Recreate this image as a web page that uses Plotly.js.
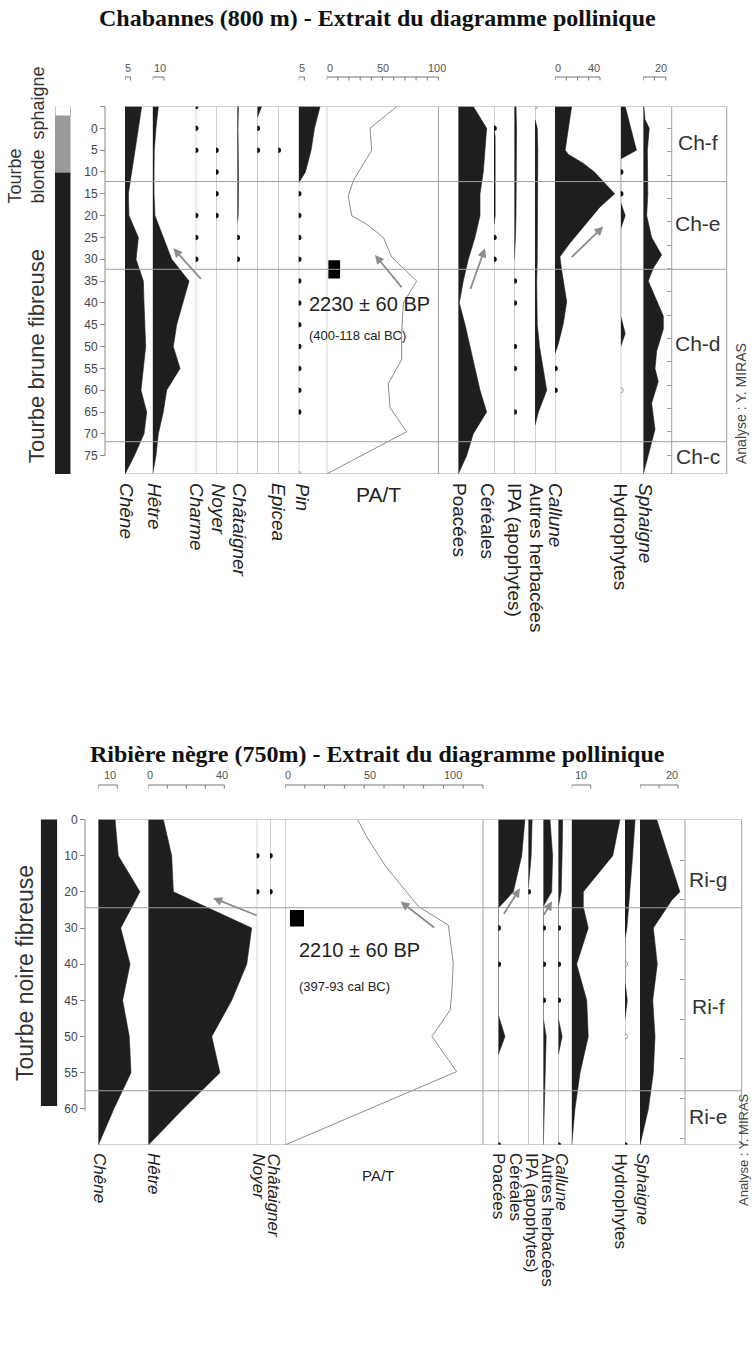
<!DOCTYPE html>
<html><head><meta charset="utf-8">
<script src="https://cdn.plot.ly/plotly-3.0.1.min.js"></script>
<style>html,body{margin:0;padding:0;background:#fff}#chart{width:752px;height:1352px}</style>
</head><body><div id="chart"></div>
<script>
// ================= DATA : Chabannes (800 m) =================
const chabDepth = [-5, 0, 5, 10, 15, 20, 25, 30, 35, 40, 45, 50, 55, 60, 65, 70, 75, 79.2];
const chabDepthTicks = [-5, 0, 5, 10, 15, 20, 25, 30, 35, 40, 45, 50, 55, 60, 65, 70, 75];
const chabDepthTickText = ['', '0', '5', '10', '15', '20', '25', '30', '35', '40', '45', '50', '55', '60', '65', '70', '75'];
const chabChene = [14.8, 11.9, 8.9, 5.9, 3.0, 3.5, 11.9, 9.8, 16.3, 16.9, 17.8, 18.4, 16.3, 14.2, 19.3, 16.9, 8.3, 0];
const chabHetre = [5.0, 2.9, 1.4, 1.2, 1.2, 2.0, 9.4, 16.9, 32.3, 26.7, 21.3, 18.3, 24.3, 12.4, 9.4, 5.0, 2.9, 0];
const chabCharmeDots = [-5, 0, 5, 20, 25, 30];
const chabNoyerDots = [5, 10, 15, 20];
const chabChataignierDepth = [-5, 0, 5, 10, 15, 20, 21.5];
const chabChataignierVal = [1.0, 0.6, 1.0, 1.0, 1.0, 0.8, 0];
const chabChataignierDots = [25, 30];
const chabTaxonXDepth = [-5, -2.5];
const chabTaxonXVal = [3.9, 0];
const chabTaxonXDots = [0, 5];
const chabEpiceaDots = [5];
const chabPinDepth = [-5, 0, 5, 10, 12.5];
const chabPinVal = [19, 14, 11, 6, 0];
const chabPinDots = [15, 20, 25, 30, 35, 40, 45, 50, 55, 60, 65];
const chabPinOpen = [79.2];
const chabPATDepth = [-5, 0, 5, 9, 12, 15.5, 20, 22, 25, 29.5, 35, 40, 47, 53, 58.5, 64, 69.5, 79.2];
const chabPATVal = [62.7, 38.8, 40.3, 31.3, 23.8, 19.3, 22.4, 35.8, 50.7, 58.2, 80.6, 68.6, 67.1, 67.1, 55.1, 56.7, 71.6, 0];
const chabPoacees = [13.3, 25.2, 23.7, 22.2, 19.3, 19.3, 14.8, 8.9, 4.4, 0.9, 6.0, 10.4, 14.8, 19.3, 25.2, 13.3, 7.4, 0];
const chabCerealesDepth = [0, 2, 5, 10, 15, 20, 22];
const chabCerealesVal = [0, 1, 1, 1, 1, 1, 0];
const chabCerealesDots = [0, 25, 30];
const chabIPADepth = [-5, 0, 5, 10, 15, 20, 25, 30];
const chabIPAVal = [1.5, 2, 2, 2, 2, 1.5, 1, 0];
const chabIPADots = [35, 40, 50, 55, 65];
const chabAutresDepth = [-2, 0, 5, 10, 15, 20, 25, 30, 35, 40, 45, 50, 55, 60, 65, 68];
const chabAutresVal = [0, 2, 2.5, 2.5, 2.5, 2, 2, 2, 1.5, 1.5, 2, 4, 7, 10.4, 3, 0];
const chabAutresOpen = [-5];
const chabCalluneDepth = [-5, 0, 5, 6, 8, 10, 15, 18, 22.5, 26.3, 29.4, 32.5, 39.7, 44.7, 49.3, 51.6];
const chabCalluneVal = [14.8, 11.9, 9, 12, 25, 35, 53, 40, 25.2, 13.3, 4.4, 5.9, 10.4, 7.4, 3, 0];
const chabCalluneDots = [55, 60];
const chabHydroDepth = [-5, 0, 5, 7, 17, 20, 23, 43, 47, 50];
const chabHydroVal = [4, 9, 14, 0, 0, 4, 0, 0, 4, 0];
const chabHydroDots = [10, 15];
const chabHydroOpen = [60];
const chabSphaigneDepth = [-5, -2, 0, 5, 10, 15, 20, 25, 29, 32, 35, 43, 46, 51, 55, 58, 63, 69, 79.2];
const chabSphaigneVal = [0.5, 1.5, 5.3, 3.6, 3.6, 4, 3, 7.4, 16.3, 8.9, 4.4, 17.8, 17.8, 11.9, 10.4, 13.3, 7.4, 10.4, 0];
const chabZoneBounds = [12.2, 32.3, 71.8];
const chabZoneNames = ['Ch-f', 'Ch-e', 'Ch-d', 'Ch-c'];
const chabZoneLabelDepth = [3.2, 21.8, 49.2, 75.2];
const chabLithoBounds = [-5.2, -2.8, 10.1, 79.2];
const chabDateDepth = 32.3;

// ================= DATA : Ribière nègre (750 m) =================
// levels are equally spaced on the diagram; the depth labels are not
const ribLevelPos = [0, 1, 2, 3, 4, 5, 6, 7, 8];
const ribLevelText = ['0', '10', '20', '30', '40', '45', '50', '55', '60'];
const ribPos = [0, 1, 2, 3, 4, 5, 6, 7, 8, 9];
const ribChene = [8.8, 10.5, 21.9, 11.8, 16.7, 12.8, 16.3, 17.2, 8.2, 0];
const ribHetre = [7.9, 12.3, 13.2, 54.4, 51.8, 43.9, 33.4, 37.7, 18.4, 0];
const ribNoyerDots = [1, 2];
const ribChataignierDots = [1, 2];
const ribPATPos = [0, 0.48, 1.3, 1.86, 2.41, 2.92, 3.98, 4.8, 5.27, 6.0, 6.97, 9];
const ribPATVal = [36.7, 41.3, 50.9, 59.2, 67.5, 82.5, 85, 84.2, 83.4, 74.2, 86.7, 0];
const ribPoaceesPos = [0, 1, 2, 2.45, 5.4, 6, 6.5];
const ribPoaceesVal = [14, 12.3, 7.9, 0, 0, 3.5, 0];
const ribPoaceesDots = [3, 4, 9];
const ribCerealesPos = [0, 1, 1.9];
const ribCerealesVal = [2, 1.5, 0];
const ribCerealesDots = [2];
const ribIPAPos = [0, 1, 2, 2.4, 5.5, 6, 7, 8, 9];
const ribIPAVal = [3.5, 4.9, 4.4, 0, 0, 1.5, 1, 0.7, 0];
const ribIPADots = [3, 4, 5];
const ribAutresPos = [0, 1, 2, 2.4, 5.5, 6, 6.5];
const ribAutresVal = [2.3, 2, 1.5, 0, 0, 2, 0];
const ribAutresDots = [3, 4, 5, 9];
const ribCallunePos = [0, 1, 2, 2.42, 3, 4, 5, 6, 7, 8, 9];
const ribCalluneVal = [25.4, 21.6, 6.1, 6.1, 8.7, 2.6, 7.9, 8.7, 4.4, 1.7, 0];
const ribHydroPos = [0, 1, 2, 3, 3.3, 4.5, 5, 5.5];
const ribHydroVal = [5.3, 4, 2.6, 1, 0, 0, 1.2, 0];
const ribHydroOpen = [4, 6];
const ribHydroDots = [9];
const ribSphaignePos = [0, 1.3, 2, 2.23, 3, 4, 5, 6, 7, 8, 9];
const ribSphaigneVal = [8.8, 16.7, 21, 16.7, 7, 9.1, 6.7, 7.9, 7, 4.4, 0];
const ribZoneBounds = [2.44, 7.5];
const ribZoneNames = ['Ri-g', 'Ri-f', 'Ri-e'];
const ribZoneLabelPos = [1.67, 5.18, 8.2];
const ribLithoBounds = [-0.05, 7.92];
const ribDatePos = 2.73;

// ================= RENDERING =================
const W = 752, H = 1352;
const fx = p => p / W;
const fy = p => 1 - p / H;
const SANS = "'Liberation Sans', Arial, sans-serif";
const SERIF = "'Liberation Serif', 'Times New Roman', serif";
const FILL = '#1e1e1e', GRID = '#a0a0a0', ARROW = '#8c8c8c';

const traces = [], shapes = [], annotations = [];
const layout = {
  width: W, height: H, margin: {l: 0, r: 0, t: 0, b: 0},
  paper_bgcolor: '#ffffff', plot_bgcolor: 'rgba(0,0,0,0)',
  showlegend: false, hovermode: false, barmode: 'overlay',
  shapes: shapes, annotations: annotations
};
let nx = 0;
function newX(yId, x0, x1, range) {
  nx += 1;
  const id = nx === 1 ? 'x' : 'x' + nx;
  layout[nx === 1 ? 'xaxis' : 'xaxis' + nx] = {domain: [fx(x0), fx(x1)], range: range, anchor: yId, visible: false, fixedrange: true};
  return id;
}

function buildChart(c) {
  // depth axis
  layout[c.yKey] = {
    domain: [fy(c.botPx), fy(c.topPx)], range: [c.yBot, c.yTop], anchor: 'free', position: fx(c.axisPx),
    side: 'left', tickmode: 'array', tickvals: c.tickvals, ticktext: c.ticktext, ticks: 'outside', ticklen: 5,
    tickcolor: '#8a8a8a', tickwidth: 1, tickfont: {family: SANS, size: 12, color: '#444'},
    showline: false, showgrid: false, zeroline: false, fixedrange: true
  };
  shapes.push({type: 'line', xref: 'paper', yref: c.y, x0: fx(c.axisPx), x1: fx(c.axisPx), y0: c.axisLine[0], y1: c.axisLine[1], line: {color: '#8a8a8a', width: 1}});

  // lithology column
  const xl = newX(c.y, c.litho.x0, c.litho.x1, [-0.5, 0.5]);
  for (let i = 0; i < c.litho.bounds.length - 1; i++) {
    const b0 = c.litho.bounds[i], b1 = c.litho.bounds[i + 1];
    traces.push({type: 'bar', xaxis: xl, yaxis: c.y, x: [0], y: [b1 - b0], base: [b0], width: [1],
      marker: {color: c.litho.colors[i], line: {color: '#888', width: c.litho.colors[i] === '#ffffff' ? 1 : 0}}, hoverinfo: 'skip'});
  }

  // columns
  const ids = {};
  c.columns.forEach(col => {
    const sc = col.pat ? c.patScale : c.taxaScale;
    const w = Math.min(240, W - col.base - 1);
    const xa = newX(c.y, col.base, col.base + w, [0, w / sc]);
    ids[col.key] = xa;
    const common = {xaxis: xa, yaxis: c.y, hoverinfo: 'skip'};
    shapes.push({type: 'line', layer: 'below', xref: xa, yref: c.y, x0: 0, x1: 0, y0: c.yTop, y1: c.yBot, line: {color: GRID, width: 1}});
    if (col.pat) {
      shapes.push({type: 'line', layer: 'below', xref: xa, yref: c.y, x0: 100, x1: 100, y0: c.yTop, y1: c.yBot, line: {color: GRID, width: 1}});
    }
    if (col.fill) {
      const d = col.fill[0], v = col.fill[1];
      traces.push(Object.assign({type: 'scatter', mode: 'lines', x: [0].concat(v, [0]), y: [d[0]].concat(d, [d[d.length - 1]]),
        fill: 'toself', fillcolor: FILL, line: {color: FILL, width: 0.6}}, common));
    }
    if (col.curve) {
      traces.push(Object.assign({type: 'scatter', mode: 'lines', x: col.curve[1], y: col.curve[0], line: {color: '#8a8a8a', width: 1}}, common));
    }
    if (col.dots) {
      traces.push(Object.assign({type: 'scatter', mode: 'markers', x: col.dots.map(() => 0), y: col.dots, marker: {size: 5.5, color: '#111'}}, common));
    }
    if (col.open) {
      traces.push(Object.assign({type: 'scatter', mode: 'markers', x: col.open.map(() => 0), y: col.open,
        marker: {size: 5, color: '#999', symbol: 'circle-open', line: {width: 1}}}, common));
    }
    if (col.scale) {
      const s = col.scale;
      shapes.push({type: 'line', xref: xa, yref: 'paper', x0: 0, x1: s.max, y0: fy(c.scaleY), y1: fy(c.scaleY), line: {color: '#777', width: 1}});
      for (let t = 0; t <= s.max + 1e-9; t += s.step) {
        shapes.push({type: 'line', xref: xa, yref: 'paper', x0: t, x1: t, y0: fy(c.scaleY), y1: fy(c.scaleY + 3.5), line: {color: '#777', width: 1}});
      }
      s.labels.forEach(l => annotations.push({xref: xa, yref: 'paper', x: l[0], y: fy(c.scaleLabelY), text: l[1], showarrow: false,
        xanchor: 'center', yanchor: 'middle', font: {family: SANS, size: 11, color: '#555'}}));
    }
    if (col.label) {
      annotations.push({xref: 'paper', yref: 'paper', x: fx(col.lx), y: fy(c.labelTop), xanchor: 'center', yanchor: 'top',
        textangle: 90, showarrow: false, text: col.it ? '<i>' + col.label + '</i>' : col.label,
        font: {family: SANS, size: c.labelSize, color: '#222'}});
    }
    if (col.pat) {
      traces.push(Object.assign({type: 'bar', orientation: 'h', y: [c.date.pos], x: [c.date.x1 - c.date.x0], base: [c.date.x0], width: [c.date.h],
        marker: {color: '#000'}}, common));
    }
  });

  // frame and zone lines
  shapes.push({type: 'line', xref: 'paper', yref: c.y, x0: fx(c.leftPx), x1: fx(c.rightPx), y0: c.yTop, y1: c.yTop, line: {color: GRID, width: 1}});
  shapes.push({type: 'line', xref: 'paper', yref: c.y, x0: fx(c.leftPx), x1: fx(c.rightPx), y0: c.yBot, y1: c.yBot, line: {color: GRID, width: 1}});
  [c.zonePx, c.rightPx].forEach(p => shapes.push({type: 'line', xref: 'paper', yref: c.y, x0: fx(p), x1: fx(p), y0: c.yTop, y1: c.yBot, line: {color: GRID, width: 1}}));
  c.zoneBounds.forEach(z => shapes.push({type: 'line', xref: 'paper', yref: c.y, x0: fx(c.axisPx), x1: fx(c.rightPx), y0: z, y1: z, line: {color: GRID, width: 1}}));
  c.zoneNames.forEach((n, i) => annotations.push({xref: 'paper', yref: c.y, x: fx(c.zoneLabelPx), y: c.zoneLabelPos[i], text: n, showarrow: false,
    xanchor: 'center', yanchor: 'middle', font: {family: SANS, size: 21, color: '#333'}}));

  // small ticks on the zone column edge
  layout[c.yOvKey] = {overlaying: c.y, anchor: 'free', position: fx(c.zonePx), side: 'right', range: [c.yBot, c.yTop],
    tickmode: 'linear', tick0: c.zoneTick0, dtick: c.zoneDtick, ticks: 'inside', ticklen: 5, tickcolor: GRID,
    showticklabels: false, showgrid: false, zeroline: false, showline: false, fixedrange: true};
  traces.push({type: 'scatter', mode: 'markers', x: [], y: [], xaxis: ids[c.columns[0].key], yaxis: c.yOv, hoverinfo: 'skip'});

  // arrows
  c.arrows.forEach(a => annotations.push({xref: ids[a.col], yref: c.y, x: a.x, y: a.y, ax: a.ax, ay: a.ay, axref: 'pixel', ayref: 'pixel',
    text: '', showarrow: true, arrowhead: 2, arrowsize: 1, arrowwidth: 1.8, arrowcolor: ARROW, standoff: 0}));
  return ids;
}

// ---------- chart 1 ----------
buildChart({
  y: 'y', yKey: 'yaxis', yOv: 'y3', yOvKey: 'yaxis3',
  topPx: 106.5, botPx: 474, yTop: -5, yBot: 79.2,
  axisPx: 105, axisLine: [-5, 75], tickvals: chabDepthTicks, ticktext: chabDepthTickText,
  leftPx: 125, zonePx: 671.7, rightPx: 726.7, zoneTick0: 0, zoneDtick: 5.35,
  taxaScale: 1.125, patScale: 1.117, scaleY: 77, scaleLabelY: 68, labelTop: 481, labelSize: 19,
  zoneBounds: chabZoneBounds, zoneNames: chabZoneNames, zoneLabelPos: chabZoneLabelDepth, zoneLabelPx: 698,
  litho: {x0: 55, x1: 70.7, bounds: chabLithoBounds, colors: ['#ffffff', '#9a9a9a', FILL]},
  date: {pos: chabDateDepth, x0: 1.5, x1: 12, h: 4.2},
  columns: [
    {key: 'chene', label: 'Chêne', it: true, base: 125, lx: 127, fill: [chabDepth, chabChene], scale: {max: 5, step: 5, labels: [[3, '5']]}},
    {key: 'hetre', label: 'Hêtre', it: true, base: 152.7, lx: 155, fill: [chabDepth, chabHetre], scale: {max: 10, step: 10, labels: [[6.5, '10']]}},
    {key: 'charme', label: 'Charme', it: true, base: 195.7, lx: 197, dots: chabCharmeDots},
    {key: 'noyer', label: 'Noyer', it: true, base: 216, lx: 218, dots: chabNoyerDots},
    {key: 'chat', label: 'Châtaigner', it: true, base: 237.3, lx: 240, fill: [chabChataignierDepth, chabChataignierVal], dots: chabChataignierDots},
    {key: 'taxx', label: '', base: 257.3, fill: [chabTaxonXDepth, chabTaxonXVal], dots: chabTaxonXDots},
    {key: 'epicea', label: 'Epicea', it: true, base: 278.3, lx: 279, dots: chabEpiceaDots},
    {key: 'pin', label: 'Pin', it: true, base: 298.7, lx: 302, fill: [chabPinDepth, chabPinVal], dots: chabPinDots, open: chabPinOpen, scale: {max: 5, step: 5, labels: [[3, '5']]}},
    {key: 'pat', pat: true, base: 326.7, curve: [chabPATDepth, chabPATVal], scale: {max: 100, step: 10, labels: [[3, '0'], [50, '50'], [98.5, '100']]}},
    {key: 'poa', label: 'Poacées', base: 458.3, lx: 460, fill: [chabDepth, chabPoacees]},
    {key: 'cer', label: 'Céréales', base: 494, lx: 488, fill: [chabCerealesDepth, chabCerealesVal], dots: chabCerealesDots},
    {key: 'ipa', label: 'IPA (apophytes)', base: 514.3, lx: 515, fill: [chabIPADepth, chabIPAVal], dots: chabIPADots},
    {key: 'aut', label: 'Autres herbacées', base: 535, lx: 536, fill: [chabAutresDepth, chabAutresVal], open: chabAutresOpen},
    {key: 'cal', label: 'Callune', it: true, base: 555, lx: 556, fill: [chabCalluneDepth, chabCalluneVal], dots: chabCalluneDots, scale: {max: 40, step: 10, labels: [[2.7, '0'], [35, '40']]}},
    {key: 'hyd', label: 'Hydrophytes', base: 620.7, lx: 620, fill: [chabHydroDepth, chabHydroVal], dots: chabHydroDots, open: chabHydroOpen},
    {key: 'sph', label: 'Sphaigne', it: true, base: 643.3, lx: 646, fill: [chabSphaigneDepth, chabSphaigneVal], scale: {max: 20, step: 10, labels: [[15.7, '20']]}}
  ],
  arrows: [
    {col: 'hetre', x: 18.3, y: 27.5, ax: 29, ay: 32},
    {col: 'pat', x: 43.2, y: 29, ax: 28, ay: 34},
    {col: 'poa', x: 23.7, y: 27.5, ax: -15, ay: 42},
    {col: 'cal', x: 42.9, y: 22.5, ax: -33, ay: 32}
  ]
});

// ---------- chart 2 ----------
buildChart({
  y: 'y2', yKey: 'yaxis2', yOv: 'y4', yOvKey: 'yaxis4',
  topPx: 819.5, botPx: 1145, yTop: 0, yBot: 9,
  axisPx: 85, axisLine: [0, 8.05], tickvals: ribLevelPos, ticktext: ribLevelText,
  leftPx: 98.3, zonePx: 685, rightPx: 741.7, zoneTick0: 1.12, zoneDtick: 1.1,
  taxaScale: 1.9, patScale: 1.98, scaleY: 785, scaleLabelY: 775, labelTop: 1151, labelSize: 17,
  zoneBounds: ribZoneBounds, zoneNames: ribZoneNames, zoneLabelPos: ribZoneLabelPos, zoneLabelPx: 708,
  litho: {x0: 40.7, x1: 57.3, bounds: ribLithoBounds, colors: [FILL]},
  date: {pos: ribDatePos, x0: 2.5, x1: 9.6, h: 0.46},
  columns: [
    {key: 'chene', label: 'Chêne', it: true, base: 98.3, lx: 100, fill: [ribPos, ribChene], scale: {max: 10, step: 10, labels: [[6, '10']]}},
    {key: 'hetre', label: 'Hêtre', it: true, base: 148.3, lx: 154, fill: [ribPos, ribHetre], scale: {max: 40, step: 10, labels: [[1, '0'], [39, '40']]}},
    {key: 'noyer', label: 'Noyer', it: true, base: 256.7, lx: 258, dots: ribNoyerDots},
    {key: 'chat', label: 'Châtaigner', it: true, base: 270, lx: 273, dots: ribChataignierDots},
    {key: 'pat', pat: true, base: 285, curve: [ribPATPos, ribPATVal], scale: {max: 100, step: 10, labels: [[1.5, '0'], [43, '50'], [85, '100']]}},
    {key: 'poa', label: 'Poacées', base: 498.3, lx: 499, fill: [ribPoaceesPos, ribPoaceesVal], dots: ribPoaceesDots},
    {key: 'cer', label: 'Céréales', base: 528.3, lx: 516, fill: [ribCerealesPos, ribCerealesVal], dots: ribCerealesDots},
    {key: 'ipa', label: 'IPA (apophytes)', base: 543.3, lx: 532, fill: [ribIPAPos, ribIPAVal], dots: ribIPADots},
    {key: 'aut', label: 'Autres herbacées', base: 558.3, lx: 547, fill: [ribAutresPos, ribAutresVal], dots: ribAutresDots},
    {key: 'cal', label: 'Callune', it: true, base: 571.7, lx: 562, fill: [ribCallunePos, ribCalluneVal], scale: {max: 10, step: 10, labels: [[5, '10']]}},
    {key: 'hyd', label: 'Hydrophytes', base: 625, lx: 620, fill: [ribHydroPos, ribHydroVal], dots: ribHydroDots, open: ribHydroOpen},
    {key: 'sph', label: 'Sphaigne', it: true, base: 640, lx: 643, fill: [ribSphaignePos, ribSphaigneVal], scale: {max: 20, step: 10, labels: [[17, '20']]}}
  ],
  arrows: [
    {col: 'hetre', x: 34.1, y: 2.17, ax: 45, ay: 18},
    {col: 'pat', x: 58.4, y: 2.27, ax: 35, ay: 27},
    {col: 'poa', x: 11.4, y: 1.9, ax: -17, ay: 27},
    {col: 'ipa', x: 4.6, y: 2.26, ax: -9, ay: 15}
  ]
});

// ---------- free texts ----------
function txt(xp, yp, text, font, extra) {
  annotations.push(Object.assign({xref: 'paper', yref: 'paper', x: fx(xp), y: fy(yp), text: text, showarrow: false,
    xanchor: 'center', yanchor: 'middle', font: font}, extra || {}));
}
txt(377, 18, '<b>Chabannes (800 m) - Extrait du diagramme pollinique</b>', {family: SERIF, size: 24, color: '#111'});
txt(377, 754, '<b>Ribière nègre (750m) - Extrait du diagramme pollinique</b>', {family: SERIF, size: 24, color: '#111'});
txt(26, 206, 'Tourbe<br>blonde  sphaigne', {family: SANS, size: 18, color: '#333'}, {textangle: -90, align: 'left', yanchor: 'bottom'});
txt(36, 356, 'Tourbe brune fibreuse', {family: SANS, size: 22, color: '#333'}, {textangle: -90});
txt(25, 973, 'Tourbe noire fibreuse', {family: SANS, size: 23, color: '#333'}, {textangle: -90});
txt(378, 494, 'PA/T', {family: SANS, size: 21, color: '#222'});
txt(378, 1175, 'PA/T', {family: SANS, size: 15, color: '#222'});
txt(307, 304, '2230 ± 60 BP', {family: SANS, size: 20, color: '#222'}, {xanchor: 'left'});
txt(307, 336, '(400-118 cal BC)', {family: SANS, size: 13, color: '#222'}, {xanchor: 'left'});
txt(297, 950, '2210 ± 60 BP', {family: SANS, size: 20, color: '#222'}, {xanchor: 'left'});
txt(297, 986, '(397-93 cal BC)', {family: SANS, size: 13, color: '#222'}, {xanchor: 'left'});
txt(741, 404, 'Analyse : Y. MIRAS', {family: SANS, size: 14, color: '#444'}, {textangle: -90});
txt(743, 1150, 'Analyse : Y. MIRAS', {family: SANS, size: 13, color: '#444'}, {textangle: -90});

Plotly.newPlot('chart', traces, layout, {staticPlot: true, displayModeBar: false});
</script></body></html>
